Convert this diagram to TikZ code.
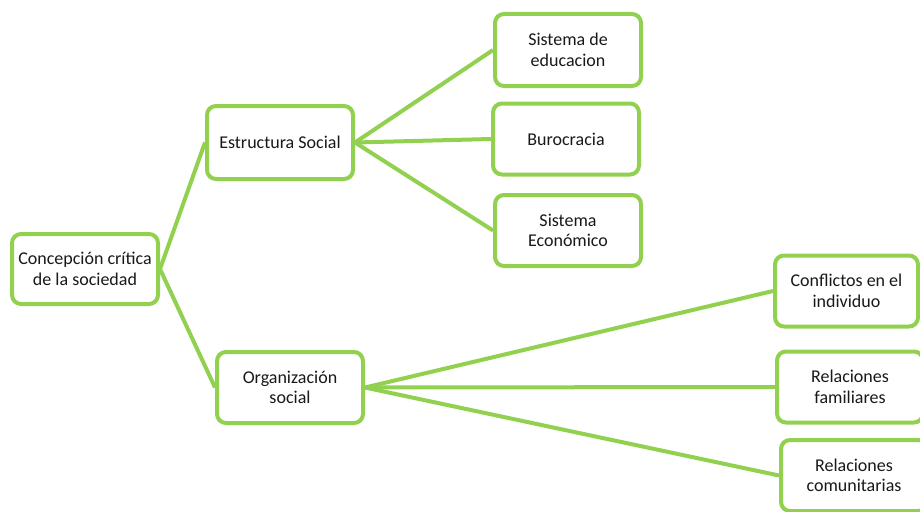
\documentclass[tikz,border=0pt]{standalone}
\usepackage{fontspec}
\setmainfont{Carlito}
\definecolor{boxgreen}{HTML}{92D050}
\begin{document}
\begin{tikzpicture}[x=1pt,y=-1pt,
  box/.style={draw=boxgreen, line width=4pt, rounded corners=9pt, fill=white,
    minimum width=146pt, minimum height=71pt, align=center, inner sep=0pt,
    text=black!90, font=\fontsize{18}{20.5}\selectfont},
  link/.style={draw=boxgreen, line width=4pt}]
\useasboundingbox (0,0) rectangle (920,511);
\clip (0,0) rectangle (920,511);
\node[box, minimum height=70pt] (root) at (85,269) {Concepción crítica\\de la sociedad};
\node[box, minimum height=73pt] (es) at (280,142.5) {Estructura Social};
\node[box] (os) at (290,387.5) {Organización\\social};
\node[box, minimum height=72pt] (se) at (568,50) {Sistema de\\educacion};
\node[box] (bu) at (566,139) {Burocracia};
\node[box] (sec) at (568,230.5) {Sistema\\Económico};
\node[box, minimum width=143pt] (ci) at (846.5,291) {Conflictos en el\\individuo};
\node[box] (rf) at (850,387) {Relaciones\\familiares};
\node[box] (rc) at (854,475.5) {Relaciones\\comunitarias};
\draw[link] (root.east) -- (es.west);
\draw[link] (root.east) -- (os.west);
\draw[link] (es.east) -- (se.west);
\draw[link] (es.east) -- (bu.west);
\draw[link] (es.east) -- (sec.west);
\draw[link] (os.east) -- (ci.west);
\draw[link] (os.east) -- (rf.west);
\draw[link] (os.east) -- (rc.west);
\end{tikzpicture}
\end{document}
